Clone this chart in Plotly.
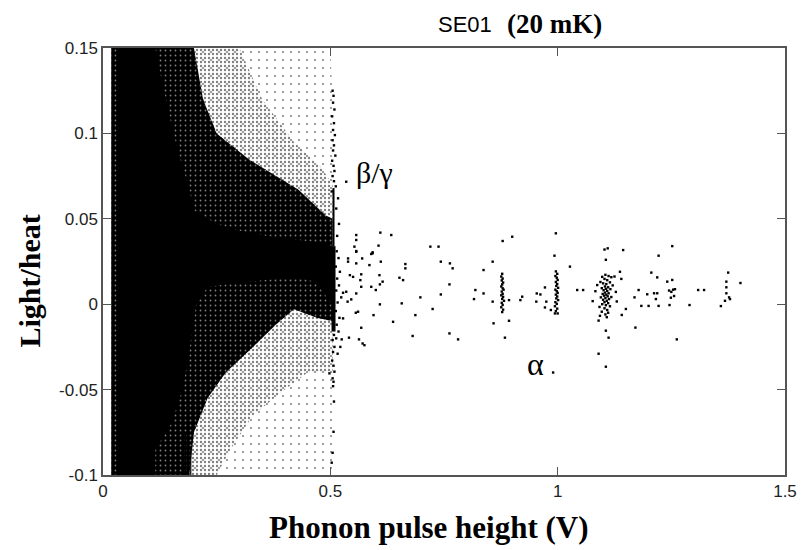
import plotly.graph_objects as go

# ---------------- data ----------------
# dense event band outlines (x = phonon pulse height in V, y = light/heat)
core_x = [0.03, 0.115, 0.13, 0.155, 0.167, 0.19, 0.20, 0.25, 0.30, 0.36, 0.42, 0.47, 0.50, 0.505, 0.505, 0.49, 0.47, 0.42, 0.35, 0.28, 0.23, 0.205, 0.19, 0.175, 0.15, 0.115, 0.115, 0.03]
core_y = [0.15, 0.15, 0.13, 0.10, 0.088, 0.067, 0.055, 0.047, 0.043, 0.040, 0.038, 0.036, 0.035, 0.030, 0.0, 0.005, 0.013, 0.016, 0.014, 0.012, 0.010, 0.0, -0.027, -0.05, -0.07, -0.085, -0.10, -0.10]

dark_x = [0.018, 0.20, 0.22, 0.25, 0.32, 0.43, 0.49, 0.505, 0.505, 0.47, 0.42, 0.38, 0.33, 0.27, 0.23, 0.20, 0.19, 0.018]
dark_y = [0.15, 0.15, 0.12, 0.10, 0.085, 0.067, 0.052, 0.050, -0.010, -0.008, -0.003, -0.012, -0.025, -0.040, -0.055, -0.075, -0.10, -0.10]

light_x = [0.018, 0.30, 0.35, 0.42, 0.48, 0.505, 0.505, 0.45, 0.40, 0.33, 0.28, 0.25, 0.018]
light_y = [0.15, 0.15, 0.12, 0.095, 0.080, 0.070, -0.040, -0.040, -0.050, -0.065, -0.085, -0.10, -0.10]

sparse_x = [0.012, 0.50, 0.505, 0.505, 0.012]
sparse_y = [0.15, 0.15, 0.12, -0.10, -0.10]

# beta/gamma line at ~0.507 V
bg_dense_x = [0.507, 0.507]
bg_dense_y = [-0.016, 0.034]
bg_mid_x = [0.507, 0.507]
bg_mid_y = [0.034, 0.068]
bg_pts_x = [0.505, 0.507, 0.506, 0.509, 0.504, 0.508, 0.506, 0.510, 0.505, 0.508, 0.506, 0.511, 0.504, 0.507, 0.509, 0.505, 0.508, 0.512, 0.503,
            0.508, 0.505, 0.509, 0.506, 0.504, 0.507, 0.509, 0.498, 0.505, 0.507, 0.506, 0.508, 0.507, 0.505, 0.503,
            0.514, 0.518, 0.512, 0.521, 0.515, 0.519, 0.513, 0.524, 0.516, 0.512, 0.520, 0.514, 0.518, 0.513, 0.522, 0.516, 0.515, 0.519, 0.513, 0.517]
bg_pts_y = [0.125, 0.122, 0.118, 0.114, 0.110, 0.106, 0.102, 0.099, 0.096, 0.093, 0.090, 0.087, 0.084, 0.081, 0.078, 0.075, 0.072, 0.069, 0.066,
            -0.018, -0.021, -0.025, -0.028, -0.033, -0.036, -0.0395, -0.0405, -0.0434, -0.0454, -0.048, -0.057, -0.0747, -0.087, -0.0928,
            0.031, 0.027, 0.022, 0.019, 0.015, 0.011, 0.008, 0.004, 0.001, -0.004, -0.008, -0.012, -0.016, -0.020, -0.025, -0.029, 0.040, 0.047, 0.056, 0.062]

# faint vertical stripes in the low-energy band
stripe1_x = [0.181, 0.181]
stripe1_y = [-0.10, -0.076]
stripe2_x = [0.193, 0.193]
stripe2_y = [-0.10, -0.083]

# isolated events
iso_x = [0.535, 0.557, 0.557, 0.610, 0.634, 0.606, 0.553, 0.593, 0.590, 0.557, 0.570, 0.539, 0.720, 0.738, 0.879, 0.900, 0.996, 0.993,
         0.557, 0.593, 0.539, 0.557, 0.586, 0.611, 0.665, 0.665, 0.743, 0.763, 0.769, 0.857, 0.837, 1.027,
         0.543, 0.550, 0.568, 0.608, 0.652, 0.660, 0.566, 0.590, 0.568, 0.600, 0.615, 0.609, 0.762, 0.972,
         0.535, 0.528, 0.557, 0.698, 0.743, 0.819, 0.837, 0.816, 0.922, 0.918, 0.954, 0.962, 0.953, 0.975, 0.972, 0.985,
         0.546, 0.538, 0.609, 0.657, 0.725, 0.857, 0.893, 0.687, 0.595, 0.556, 0.561, 0.528,
         0.638, 0.859, 0.893, 0.568, 0.681, 0.762, 0.781, 0.884, 0.563, 0.541, 0.525, 0.571, 0.575, 0.990,
         1.043, 1.056, 1.103, 1.110, 1.144, 1.106, 1.137, 1.140, 1.150, 1.141, 1.090, 1.106, 1.112, 1.090, 1.106, 1.171, 1.169, 1.178,
         1.184, 1.200, 1.222, 1.197, 1.212, 1.219, 1.216, 1.206, 1.219, 1.222, 1.252, 1.241, 1.252, 1.245, 1.250, 1.254, 1.258, 1.249,
         1.256, 1.246, 1.262, 1.290, 1.309, 1.322, 1.375, 1.371, 1.371, 1.371, 1.377, 1.379, 1.368, 1.359, 1.402]
iso_y = [0.0717, 0.0405, 0.0376, 0.0419, 0.0405, 0.0343, 0.0337, 0.0304, 0.0294, 0.0311, 0.0268, 0.0268, 0.0337, 0.0337, 0.037, 0.0395, 0.0415, 0.0284,
         0.0307, 0.0298, 0.0249, 0.0239, 0.0229, 0.0249, 0.0235, 0.021, 0.0249, 0.0239, 0.021, 0.0249, 0.020, 0.022,
         0.017, 0.016, 0.0175, 0.017, 0.0155, 0.0141, 0.0141, 0.0102, 0.0102, 0.0083, 0.0132, 0.0116, 0.0116, 0.0098,
         0.0073, 0.0067, 0.0063, 0.004, 0.0057, 0.0083, 0.0063, 0.003, 0.0044, 0.0024, 0.0063, 0.0057, 0.0015, 0.0015, -0.0019, -0.0034,
         0.0028, 0.0015, -0.0001, 0.0005, -0.0028, 0.0015, 0.0024, -0.0064, -0.0064, -0.005, -0.0044, -0.0083,
         -0.0103, -0.0112, -0.0097, -0.0138, -0.0186, -0.0171, -0.0206, -0.0196, -0.0206, -0.0196, -0.0206, -0.023, -0.024, -0.040,
         0.0083, 0.0083, 0.032, 0.0327, 0.0317, 0.026, 0.019, 0.0148, -0.0028, -0.0063, -0.0096, -0.0155, -0.0196, -0.029, -0.0366, -0.0137, 0.004, 0.0083,
         -0.001, -0.001, -0.001, 0.0058, 0.0064, 0.0064, 0.003, 0.0185, 0.0157, 0.0284, 0.034, 0.0132, 0.0142, 0.008, 0.0072, 0.0085, 0.0088, 0.0038,
         0.0048, -0.0005, -0.0206, -0.0005, 0.0083, 0.0083, 0.0185, 0.0132, 0.0099, 0.0064, 0.004, 0.003, 0.002, -0.0011, 0.0124]

# alpha line near 0.88 V
a088_x = [0.878, 0.876, 0.879, 0.877, 0.880, 0.878, 0.876, 0.879, 0.881, 0.877, 0.879, 0.876, 0.880, 0.878, 0.882, 0.877, 0.879, 0.876, 0.880, 0.878]
a088_y = [0.0178, 0.0162, 0.0150, 0.0139, 0.0127, 0.0116, 0.0104, 0.0093, 0.0085, 0.0074, 0.0061, 0.0052, 0.0043, 0.0031, 0.0020, 0.0008, -0.0004, -0.0018, -0.0032, -0.0046]

# alpha line near 1.0 V
a100_x = [0.996, 0.999, 0.995, 0.998, 1.000, 0.996, 0.999, 0.997, 1.001, 0.995, 0.998, 1.000, 0.996, 0.999, 0.997, 1.001, 0.995, 0.998, 0.994, 0.999, 0.996, 1.000, 0.994]
a100_y = [0.0192, 0.0178, 0.0165, 0.0155, 0.0142, 0.0130, 0.0118, 0.0107, 0.0096, 0.0085, 0.0076, 0.0066, 0.0056, 0.0045, 0.0034, 0.0024, 0.0012, 0.0002, -0.0012, -0.0026, -0.0040, -0.0054, -0.0054]

# alpha cluster near 1.11 V
a111_x = [1.105, 1.112, 1.098, 1.118, 1.125, 1.103, 1.109, 1.094, 1.115, 1.100, 1.107, 1.087, 1.121, 1.104, 1.111, 1.097, 1.106, 1.116, 1.101, 1.109,
          1.083, 1.128, 1.104, 1.112, 1.099, 1.107, 1.102, 1.110, 1.118, 1.095, 1.105, 1.113, 1.100, 1.108, 1.077, 1.130, 1.103, 1.111, 1.098, 1.106,
          1.115, 1.092, 1.103, 1.109, 1.097, 1.111, 1.105, 1.093, 1.108]
a111_y = [0.0172, 0.0165, 0.0160, 0.0158, 0.0162, 0.0148, 0.0141, 0.0130, 0.0128, 0.0122, 0.0118, 0.0112, 0.0110, 0.0104, 0.0099, 0.0094, 0.0090, 0.0088, 0.0082, 0.0078,
          0.0076, 0.0072, 0.0068, 0.0064, 0.0060, 0.0056, 0.0050, 0.0046, 0.0042, 0.0040, 0.0036, 0.0030, 0.0026, 0.0020, 0.0018, 0.0016, 0.0012, 0.0006, 0.0000, -0.0006,
          -0.0012, -0.0016, -0.0024, -0.0034, -0.0044, -0.0050, -0.0060, -0.0068, -0.0076]

x_ticks = [0, 0.5, 1, 1.5]
x_tick_text = ["0", "0.5", "1", "1.5"]
y_ticks = [-0.1, -0.05, 0, 0.05, 0.1, 0.15]
y_tick_text = ["-0.1", "-0.05", "0", "0.05", "0.1", "0.15"]

# ---------------- figure ----------------
fig = go.Figure()

def region(xs, ys, pattern):
    fig.add_trace(go.Scatter(x=xs, y=ys, mode="lines", fill="toself",
                             fillcolor="rgba(0,0,0,0)", line=dict(width=0),
                             fillpattern=pattern, hoverinfo="skip", showlegend=False))

region(sparse_x, sparse_y, dict(shape=".", fgcolor="black", bgcolor="rgba(0,0,0,0)", size=8, solidity=0.05))
region(light_x, light_y, dict(shape=".", fgcolor="black", bgcolor="rgba(0,0,0,0)", size=4, solidity=0.28))
region(dark_x, dark_y, dict(shape=".", fgcolor="white", bgcolor="black", size=5, solidity=0.1))
fig.add_trace(go.Scatter(x=core_x, y=core_y, mode="lines", fill="toself", fillcolor="black",
                         line=dict(width=0, color="black"), hoverinfo="skip", showlegend=False))

for xs, ys, w in [(bg_dense_x, bg_dense_y, 4), (bg_mid_x, bg_mid_y, 2), (stripe1_x, stripe1_y, 1.5), (stripe2_x, stripe2_y, 1.2)]:
    fig.add_trace(go.Scatter(x=xs, y=ys, mode="lines", line=dict(color="black", width=w),
                             hoverinfo="skip", showlegend=False))

for xs, ys in [(bg_pts_x, bg_pts_y), (iso_x, iso_y), (a088_x, a088_y), (a100_x, a100_y), (a111_x, a111_y)]:
    fig.add_trace(go.Scatter(x=xs, y=ys, mode="markers",
                             marker=dict(symbol="square", size=2.4, color="black", line=dict(width=0)),
                             hoverinfo="skip", showlegend=False))

axis_common = dict(showline=True, linecolor="#555555", linewidth=1.5, mirror="ticks",
                   ticks="inside", ticklen=8, tickwidth=1.3, tickcolor="#555555",
                   showgrid=False, zeroline=False,
                   tickfont=dict(family="Liberation Sans, Arial, sans-serif", size=17, color="#222222"))

fig.update_xaxes(range=[0, 1.5], tickvals=x_ticks, ticktext=x_tick_text, **axis_common)
fig.update_yaxes(range=[-0.1, 0.15], tickvals=y_ticks, ticktext=y_tick_text, **axis_common)

serif = "Liberation Serif, Times New Roman, serif"
sans = "Liberation Sans, Arial, sans-serif"

fig.update_layout(
    width=809, height=550,
    margin=dict(l=103, r=14, t=48, b=75),
    paper_bgcolor="white", plot_bgcolor="white",
    showlegend=False,
    annotations=[
        dict(text="SE01", xref="paper", yref="paper", x=0.574, y=1.056, xanchor="right", yanchor="middle",
             showarrow=False, font=dict(family=sans, size=22, color="black")),
        dict(text="<b>(20 mK)</b>", xref="paper", yref="paper", x=0.735, y=1.056, xanchor="right", yanchor="middle",
             showarrow=False, font=dict(family=serif, size=27, color="black")),
        dict(text="<b>Phonon pulse height (V)</b>", xref="paper", yref="paper", x=0.478, y=-0.124,
             xanchor="center", yanchor="middle", showarrow=False, font=dict(family=serif, size=31, color="black")),
        dict(text="<b>Light/heat</b>", xref="paper", yref="paper", x=-0.108, y=0.454, textangle=-90,
             xanchor="center", yanchor="middle", showarrow=False, font=dict(family=serif, size=30, color="black")),
        dict(text="β/γ", xref="x", yref="y", x=0.597, y=0.077, xanchor="center", yanchor="middle",
             showarrow=False, font=dict(family=serif, size=30, color="black")),
        dict(text="α", xref="x", yref="y", x=0.951, y=-0.035, xanchor="center", yanchor="middle",
             showarrow=False, font=dict(family=serif, size=32, color="black")),
    ],
)

fig.write_html("out.html")
